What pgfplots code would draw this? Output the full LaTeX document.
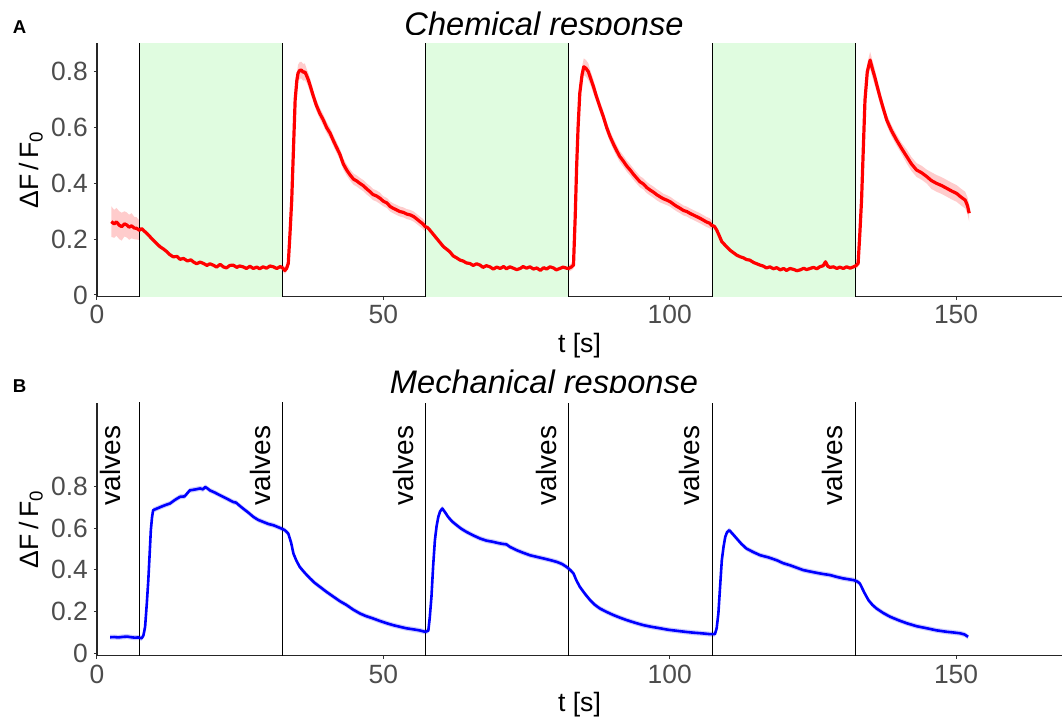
\documentclass[border=0pt]{standalone}
\usepackage{pgfplots}
\pgfplotsset{compat=1.18}
\usepackage{pgfplotstable}
\usepgfplotslibrary{fillbetween}
\usepackage{fontspec}
\setmainfont{Liberation Sans}

\definecolor{stimgreen}{RGB}{224,252,224}

% chemical response: t, mean, half width of ribbon
\pgfplotstableread{
t y e
2.5 0.263 0.055
3.0 0.255 0.05
3.4 0.262 0.05
3.9 0.250 0.05
4.3 0.245 0.05
4.8 0.255 0.045
5.2 0.251 0.045
5.6 0.243 0.045
6.05 0.248 0.045
6.5 0.240 0.04
6.9 0.239 0.04
7.4 0.232 0.035
7.8 0.238 0.035
8.2 0.230 0.03
8.7 0.221 0.03
9.2 0.210 0.025
9.8 0.197 0.025
10.4 0.185 0.02
11.0 0.173 0.02
11.6 0.165 0.018
12.2 0.155 0.018
12.7 0.145 0.015
13.3 0.137 0.015
14.0 0.138 0.015
14.5 0.128 0.015
15.1 0.131 0.015
15.8 0.122 0.012
16.4 0.126 0.012
16.8 0.119 0.012
17.4 0.112 0.012
18.0 0.118 0.012
18.6 0.113 0.012
19.2 0.106 0.012
19.7 0.112 0.012
20.3 0.107 0.012
20.9 0.100 0.012
21.5 0.110 0.012
22.05 0.101 0.012
22.6 0.097 0.012
23.2 0.106 0.012
23.8 0.107 0.012
24.4 0.099 0.012
24.9 0.104 0.012
25.5 0.101 0.012
26.1 0.095 0.012
26.7 0.103 0.012
27.3 0.095 0.012
27.9 0.100 0.012
28.4 0.094 0.012
29.0 0.101 0.012
29.6 0.096 0.012
30.2 0.104 0.012
30.8 0.101 0.012
31.4 0.095 0.012
32.0 0.102 0.012
32.4 0.097 0.012
32.8 0.088 0.012
33.1 0.095 0.012
33.4 0.113 0.012
33.7 0.22 0.015
34.0 0.34 0.015
34.3 0.52 0.02
34.6 0.699 0.025
34.9 0.770 0.025
35.1 0.795 0.03
35.4 0.805 0.03
35.7 0.806 0.03
36.0 0.798 0.03
36.3 0.800 0.03
36.6 0.786 0.025
36.9 0.771 0.025
37.3 0.745 0.025
37.8 0.711 0.02
38.3 0.680 0.02
38.9 0.651 0.02
39.5 0.628 0.02
40.1 0.600 0.02
40.7 0.580 0.02
41.3 0.552 0.02
41.9 0.526 0.02
42.4 0.505 0.02
43.0 0.470 0.02
43.6 0.448 0.02
44.2 0.430 0.02
44.8 0.415 0.02
45.4 0.408 0.02
45.9 0.400 0.02
46.5 0.392 0.02
47.1 0.380 0.02
47.7 0.370 0.02
48.2 0.360 0.02
48.8 0.355 0.02
49.4 0.347 0.02
50.0 0.336 0.018
50.6 0.330 0.018
51.2 0.317 0.018
51.7 0.311 0.018
52.3 0.305 0.018
52.9 0.299 0.018
53.5 0.296 0.018
54.1 0.290 0.018
54.7 0.287 0.018
55.3 0.281 0.018
55.8 0.273 0.018
56.4 0.263 0.018
56.9 0.255 0.018
57.3 0.245 0.018
57.7 0.242 0.018
58.1 0.233 0.018
58.7 0.218 0.018
59.3 0.203 0.015
59.9 0.188 0.015
60.5 0.173 0.015
61.0 0.165 0.015
61.6 0.155 0.015
62.2 0.140 0.015
62.8 0.133 0.015
63.4 0.125 0.012
63.9 0.122 0.012
64.5 0.115 0.012
65.1 0.113 0.012
65.7 0.106 0.012
66.3 0.112 0.012
66.9 0.107 0.012
67.4 0.099 0.012
68.0 0.105 0.012
68.6 0.101 0.012
69.2 0.093 0.012
69.8 0.100 0.012
70.4 0.095 0.012
71.0 0.102 0.012
71.5 0.094 0.012
72.1 0.101 0.012
72.7 0.096 0.012
73.3 0.091 0.012
73.9 0.095 0.012
74.4 0.102 0.012
75.0 0.096 0.012
75.6 0.101 0.012
76.2 0.093 0.012
76.8 0.097 0.012
77.4 0.088 0.012
78.0 0.098 0.012
78.5 0.093 0.012
79.1 0.101 0.012
79.7 0.097 0.012
80.2 0.090 0.012
80.8 0.095 0.012
81.4 0.100 0.012
82.0 0.096 0.012
82.3 0.095 0.012
82.8 0.100 0.012
83.2 0.107 0.012
83.5 0.28 0.015
83.75 0.46 0.02
84.0 0.60 0.02
84.3 0.723 0.025
84.7 0.790 0.03
85.0 0.818 0.03
85.4 0.812 0.03
85.8 0.800 0.03
86.2 0.776 0.025
86.7 0.746 0.025
87.2 0.712 0.02
87.8 0.675 0.02
88.4 0.640 0.02
89.0 0.600 0.02
89.6 0.567 0.02
90.2 0.540 0.02
90.7 0.519 0.02
91.3 0.496 0.02
91.9 0.480 0.02
92.5 0.462 0.02
93.1 0.448 0.02
93.7 0.432 0.02
94.2 0.420 0.02
94.8 0.406 0.02
95.4 0.398 0.02
96.0 0.385 0.02
96.6 0.376 0.02
97.2 0.368 0.02
97.7 0.360 0.02
98.3 0.352 0.02
98.9 0.345 0.018
99.5 0.340 0.018
100.1 0.334 0.018
100.7 0.325 0.018
101.2 0.318 0.018
101.8 0.311 0.018
102.4 0.303 0.018
103.0 0.299 0.018
103.5 0.293 0.018
104.1 0.287 0.018
104.7 0.281 0.018
105.3 0.275 0.018
105.9 0.268 0.018
106.4 0.262 0.018
107.0 0.257 0.018
107.3 0.250 0.018
107.8 0.246 0.018
108.2 0.233 0.018
108.6 0.215 0.018
109.1 0.191 0.015
109.8 0.176 0.015
110.5 0.161 0.015
111.1 0.152 0.015
111.7 0.143 0.015
112.3 0.137 0.012
112.9 0.133 0.012
113.4 0.127 0.012
114.0 0.125 0.012
114.6 0.117 0.012
115.2 0.112 0.012
115.8 0.107 0.012
116.3 0.104 0.012
116.9 0.097 0.012
117.5 0.101 0.012
118.1 0.094 0.012
118.7 0.098 0.012
119.3 0.090 0.012
119.9 0.095 0.012
120.4 0.088 0.012
121.0 0.095 0.012
121.6 0.092 0.012
122.2 0.087 0.012
122.8 0.090 0.012
123.4 0.096 0.012
123.9 0.091 0.012
124.5 0.095 0.012
125.1 0.099 0.012
125.7 0.094 0.012
126.2 0.101 0.012
126.8 0.105 0.012
127.2 0.119 0.012
127.6 0.103 0.012
128.0 0.099 0.012
128.6 0.101 0.012
129.2 0.095 0.012
129.7 0.100 0.012
130.3 0.095 0.012
130.9 0.101 0.012
131.5 0.096 0.012
132.1 0.101 0.012
132.5 0.105 0.012
132.9 0.113 0.012
133.2 0.22 0.015
133.5 0.34 0.015
133.8 0.52 0.02
134.1 0.699 0.025
134.5 0.800 0.03
135.0 0.842 0.03
135.4 0.810 0.03
135.8 0.782 0.03
136.2 0.750 0.025
136.7 0.711 0.025
137.3 0.668 0.02
137.9 0.627 0.02
138.7 0.590 0.02
139.6 0.556 0.02
140.5 0.525 0.02
141.4 0.496 0.025
142.2 0.470 0.025
143.1 0.448 0.025
144.0 0.438 0.025
144.9 0.424 0.025
145.7 0.410 0.03
146.6 0.400 0.03
147.5 0.392 0.03
148.4 0.382 0.03
149.2 0.373 0.03
150.1 0.364 0.03
150.8 0.352 0.03
151.6 0.340 0.03
152.0 0.320 0.03
152.3 0.293 0.03
}\chemtab

% mechanical response: t, mean
\pgfplotstableread{
t y
2.3 0.077
3.0 0.078
3.7 0.076
4.6 0.079
5.3 0.080
6.0 0.077
6.6 0.075
7.2 0.076
7.8 0.072
8.1 0.085
8.4 0.127
8.7 0.24
8.96 0.351
9.2 0.48
9.4 0.59
9.6 0.65
9.8 0.686
10.4 0.693
11.0 0.70
11.9 0.710
12.75 0.718
13.6 0.735
14.5 0.750
15.3 0.752
16.2 0.781
17.1 0.785
18.0 0.790
18.5 0.786
18.9 0.797
19.3 0.790
19.7 0.781
20.6 0.770
21.5 0.757
22.6 0.742
23.8 0.725
24.3 0.722
24.7 0.712
25.5 0.694
26.4 0.675
27.3 0.654
28.1 0.640
29.0 0.630
29.9 0.620
30.8 0.614
31.5 0.606
32.2 0.598
32.8 0.590
33.4 0.574
33.9 0.530
34.3 0.478
34.8 0.445
35.4 0.414
36.3 0.385
37.2 0.359
38.0 0.338
38.9 0.319
40.1 0.294
41.3 0.271
42.4 0.250
43.6 0.231
44.7 0.210
45.9 0.191
47.0 0.178
48.2 0.167
49.4 0.155
50.6 0.144
51.7 0.135
52.9 0.127
54.0 0.120
55.2 0.115
56.3 0.110
57.3 0.103
57.85 0.108
58.1 0.17
58.4 0.271
58.7 0.42
59.0 0.542
59.3 0.610
59.6 0.654
59.9 0.680
60.3 0.694
60.8 0.675
61.3 0.654
62.0 0.632
62.8 0.614
63.6 0.597
64.5 0.582
65.7 0.565
66.9 0.550
68.0 0.540
69.2 0.534
70.1 0.528
70.9 0.524
71.5 0.522
72.1 0.510
73.3 0.494
74.4 0.482
75.6 0.470
76.8 0.462
77.9 0.455
79.1 0.447
80.3 0.438
81.2 0.428
82.0 0.414
82.6 0.400
83.2 0.383
83.7 0.350
84.3 0.319
85.2 0.285
86.1 0.255
86.9 0.233
87.8 0.215
89.0 0.198
90.2 0.183
91.4 0.170
92.5 0.159
94.0 0.146
95.4 0.135
96.8 0.127
98.3 0.120
99.7 0.113
101.2 0.108
102.7 0.103
104.1 0.099
105.5 0.096
107.0 0.092
107.9 0.092
108.2 0.12
108.5 0.191
108.8 0.32
109.1 0.446
109.4 0.51
109.7 0.558
110.0 0.580
110.4 0.590
111.0 0.572
111.7 0.550
112.5 0.525
113.4 0.502
114.6 0.485
115.8 0.470
117.2 0.460
118.7 0.446
119.8 0.432
121.0 0.422
122.2 0.410
123.3 0.399
124.5 0.392
125.6 0.386
126.8 0.380
128.0 0.375
129.2 0.366
130.3 0.359
131.2 0.355
132.1 0.351
132.7 0.345
133.2 0.335
134.0 0.290
134.7 0.255
135.4 0.232
136.1 0.215
137.3 0.193
138.5 0.175
140.0 0.158
141.4 0.144
143.1 0.130
144.9 0.120
146.6 0.110
148.4 0.103
149.5 0.100
150.7 0.096
151.5 0.090
152.1 0.079
}\mechtab

\tikzset{
  valves/.style={rotate=90, font=\fontsize{14}{16}\selectfont},
  ptitle/.style={anchor=base, font=\fontsize{16.3}{19}\selectfont\itshape},
  plabel/.style={anchor=base west, inner sep=0pt, font=\fontsize{9.3}{11}\selectfont\bfseries},
}

\pgfplotsset{
  panel/.style={
    scale only axis, width=482.5pt, height=126.5pt,
    xmin=0, xmax=168.5,
    axis lines=left,
    axis line style={-, black!85, line width=0.55pt},
    tick style={black!80, line width=0.5pt},
    major tick length=1.6pt, tick align=outside,
    xtick={0,50,100,150}, ytick={0,0.2,0.4,0.6,0.8},
    /pgf/number format/assume math mode=true,
    ticklabel style={font=\fontsize{13.2}{15}\selectfont, text=black!70, inner sep=2.8pt},
    label style={font=\fontsize{13.3}{15}\selectfont},
    xlabel={t [s]},
    xlabel style={at={(axis description cs:0.5,-0.193)}, anchor=center},
    ylabel={ΔF\,/\,F\textsubscript{0}},
    ylabel style={at={(axis description cs:-0.0684,0.5)}, anchor=center},
  },
}

\begin{document}
\begin{tikzpicture}

% ---- A: chemical ----
\begin{axis}[panel, at={(0,0)}, ymin=-0.0047, ymax=0.902]
\addplot[draw=none, fill=stimgreen] coordinates {(7.4,-0.01)(32.4,-0.01)(32.4,0.95)(7.4,0.95)} -- cycle;
\addplot[draw=none, fill=stimgreen] coordinates {(57.4,-0.01)(82.4,-0.01)(82.4,0.95)(57.4,0.95)} -- cycle;
\addplot[draw=none, fill=stimgreen] coordinates {(107.4,-0.01)(132.4,-0.01)(132.4,0.95)(107.4,0.95)} -- cycle;
\addplot[black, line width=0.5pt] coordinates {(7.4,-0.01)(7.4,0.95)};
\addplot[black, line width=0.5pt] coordinates {(32.4,-0.01)(32.4,0.95)};
\addplot[black, line width=0.5pt] coordinates {(57.4,-0.01)(57.4,0.95)};
\addplot[black, line width=0.5pt] coordinates {(82.4,-0.01)(82.4,0.95)};
\addplot[black, line width=0.5pt] coordinates {(107.4,-0.01)(107.4,0.95)};
\addplot[black, line width=0.5pt] coordinates {(132.4,-0.01)(132.4,0.95)};
\addplot[name path=cU, draw=none] table[x=t, y expr=\thisrow{y}+\thisrow{e}] {\chemtab};
\addplot[name path=cL, draw=none] table[x=t, y expr=\thisrow{y}-\thisrow{e}] {\chemtab};
\addplot[red, fill opacity=0.2, draw=none] fill between[of=cU and cL];
\addplot[red, line width=1.6pt, line join=round] table[x=t, y=y] {\chemtab};
\end{axis}
\node[ptitle] at (223.5pt,130.65pt) {Chemical response};
\fill[white] (140pt,126.6pt) rectangle (310pt,130.65pt);
\node[plabel] at (-42.3pt,131.65pt) {A};

% ---- B: mechanical ----
\begin{axis}[panel, at={(0,-179.7pt)}, ymin=-0.0115, ymax=1.201]
\addplot[black, line width=0.5pt] coordinates {(7.4,-0.02)(7.4,1.3)};
\addplot[black, line width=0.5pt] coordinates {(32.4,-0.02)(32.4,1.3)};
\addplot[black, line width=0.5pt] coordinates {(57.4,-0.02)(57.4,1.3)};
\addplot[black, line width=0.5pt] coordinates {(82.4,-0.02)(82.4,1.3)};
\addplot[black, line width=0.5pt] coordinates {(107.4,-0.02)(107.4,1.3)};
\addplot[black, line width=0.5pt] coordinates {(132.4,-0.02)(132.4,1.3)};
\addplot[name path=mU, draw=none] table[x=t, y expr=\thisrow{y}+0.012] {\mechtab};
\addplot[name path=mL, draw=none] table[x=t, y expr=\thisrow{y}-0.012] {\mechtab};
\addplot[blue, fill opacity=0.2, draw=none] fill between[of=mU and mL];
\addplot[blue, line width=1.3pt, line join=round] table[x=t, y=y] {\mechtab};
\node[valves] at (axis cs:2.4,0.9) {valves};
\node[valves] at (axis cs:28.5,0.9) {valves};
\node[valves] at (axis cs:53.5,0.9) {valves};
\node[valves] at (axis cs:78.5,0.9) {valves};
\node[valves] at (axis cs:103.5,0.9) {valves};
\node[valves] at (axis cs:128.4,0.9) {valves};
\end{axis}
\node[ptitle] at (223.5pt,-48.5pt) {Mechanical response};
\fill[white] (140pt,-53.1pt) rectangle (320pt,-48.5pt);
\node[plabel] at (-42.3pt,-48.2pt) {B};

\pgfresetboundingbox
\path[use as bounding box] (-48.5pt,-211.85pt) rectangle (482.5pt,148.15pt);
\end{tikzpicture}
\end{document}
